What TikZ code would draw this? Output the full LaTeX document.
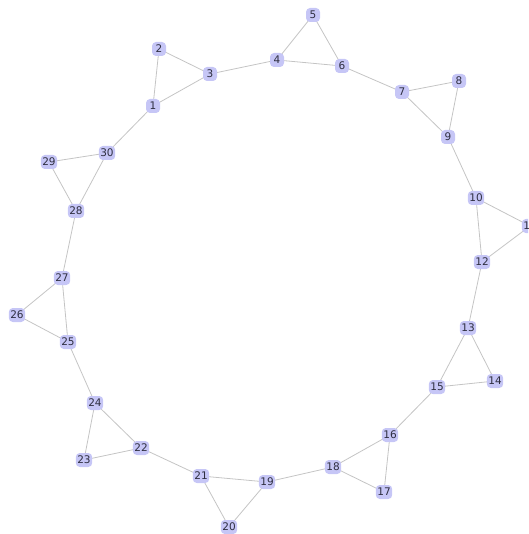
\documentclass[tikz,border=0pt]{standalone}
\usepackage{fontspec}
\setmainfont{DejaVu Sans}
\definecolor{nodefill}{HTML}{C6C6F6}
\definecolor{nodetext}{HTML}{2E2E40}
\definecolor{edgecol}{HTML}{C4C4C4}
\begin{document}
\begin{tikzpicture}[x=1pt,y=-1pt,
  vtx/.style={rectangle, rounded corners=4pt, fill=nodefill, text=nodetext,
    font=\fontsize{10.5}{11}\selectfont, inner sep=1.5pt, minimum height=14pt, minimum width=14pt},
  edge/.style={draw=edgecol, line width=0.8pt}]
\useasboundingbox (0,0) rectangle (528,534);
\clip (0,0) rectangle (528,534);
\foreach \n/\x/\y in {1/153/106, 2/159/49, 3/210/74, 4/277/60, 5/313/15, 6/342/66,
  7/402/92, 8/459/81, 9/448/137, 10/476/198, 11/530/226, 12/482/262,
  13/468/328, 14/495/381, 15/437/387, 16/390/435, 17/384/492, 18/333/467,
  19/267/482, 20/229/527, 21/201/476, 22/141/448, 23/84/460, 24/95/403,
  25/68/342, 26/17/315, 27/62/278, 28/76/211, 29/49/162, 30/107/153}
  \coordinate (p\n) at (\x,\y);
\foreach \a/\b in {1/2,2/3,3/1,4/5,5/6,6/4,7/8,8/9,9/7,10/11,11/12,12/10,
  13/14,14/15,15/13,16/17,17/18,18/16,19/20,20/21,21/19,22/23,23/24,24/22,
  25/26,26/27,27/25,28/29,29/30,30/28,
  3/4,6/7,9/10,12/13,15/16,18/19,21/22,24/25,27/28,30/1}
  \draw[edge] (p\a) -- (p\b);
\foreach \n in {1,...,30}
  \node[vtx] (n\n) at (p\n) {\n};
\end{tikzpicture}
\end{document}
